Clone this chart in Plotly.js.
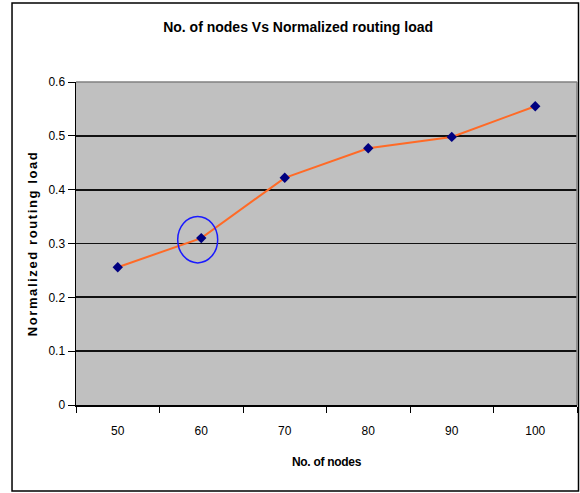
<!DOCTYPE html>
<html>
<head>
<meta charset="utf-8">
<script src="https://cdn.plot.ly/plotly-3.0.1.min.js"></script>
<style>
html,body{margin:0;padding:0;background:#fff;}
#chart{width:580px;height:493px;}
#chart .ytitle{letter-spacing:1.6px;}
#chart .xtitle{letter-spacing:-0.3px;}
</style>
</head>
<body>
<div id="chart"></div>
<script>
const nodes = ['50', '60', '70', '80', '90', '100'];
const routingLoad = [0.256, 0.310, 0.422, 0.477, 0.498, 0.555];
const yTicks = [0, 0.1, 0.2, 0.3, 0.4, 0.5, 0.6];
const yTickLabels = ['0', '0.1', '0.2', '0.3', '0.4', '0.5', '0.6'];

const sans = '"Liberation Sans", Arial, sans-serif';

const trace = {
  x: nodes,
  y: routingLoad,
  type: 'scatter',
  mode: 'lines+markers',
  line: {color: '#ff6a26', width: 2},
  marker: {symbol: 'diamond', size: 8, color: '#000080'},
  hoverinfo: 'x+y'
};

const layout = {
  width: 580,
  height: 493,
  margin: {l: 76, r: 3, t: 82, b: 88},
  paper_bgcolor: '#ffffff',
  plot_bgcolor: '#c0c0c0',
  showlegend: false,
  title: {
    text: '<b>No. of nodes Vs Normalized routing load</b>',
    font: {family: sans, size: 14, color: '#000'},
    xref: 'container',
    x: 0.514, xanchor: 'center',
    y: 0.945, yanchor: 'middle'
  },
  xaxis: {
    type: 'category',
    range: [-0.5, 5.5],
    tickson: 'boundaries',
    ticks: 'outside',
    ticklen: 6,
    tickcolor: '#000',
    showgrid: false,
    showline: true,
    linecolor: '#000',
    linewidth: 1.5,
    tickfont: {family: sans, size: 12, color: '#000'},
    ticklabelstandoff: 14,
    title: {text: '<b>No. of nodes</b>', font: {family: sans, size: 12, color: '#000'}, standoff: 20},
    fixedrange: true
  },
  yaxis: {
    range: [0, 0.6],
    tickvals: yTicks,
    ticktext: yTickLabels,
    ticks: 'outside',
    ticklen: 7,
    tickcolor: '#000',
    showgrid: true,
    gridcolor: '#111111',
    gridwidth: 1.8,
    zeroline: false,
    showline: true,
    linecolor: '#000',
    linewidth: 1.5,
    tickfont: {family: sans, size: 12, color: '#000'},
    title: {text: '<b>Normalized routing load</b>', font: {family: sans, size: 13, color: '#000'}, standoff: 8},
    fixedrange: true
  },
  shapes: [
    // outer chart border
    {type: 'rect', xref: 'paper', yref: 'paper', x0: -0.1277, x1: 1.003, y0: -0.266, y1: 1.2446,
     line: {color: '#000', width: 1.5}, fillcolor: 'rgba(0,0,0,0)', layer: 'above'},
    // top and right plot-area edges (gray)
    {type: 'line', xref: 'paper', yref: 'paper', x0: 0, x1: 1, y0: 1, y1: 1, line: {color: '#808080', width: 1.5}},
    {type: 'line', xref: 'paper', yref: 'paper', x0: 1, x1: 1, y0: 0, y1: 1, line: {color: '#808080', width: 1.5}},
    // blue highlight circle
    {type: 'circle', xref: 'x', yref: 'y', x0: 0.718, x1: 1.197, y0: 0.264, y1: 0.350,
     line: {color: '#1a1aff', width: 1.5}, fillcolor: 'rgba(0,0,0,0)', layer: 'above'}
  ]
};

Plotly.newPlot('chart', [trace], layout, {displayModeBar: false, staticPlot: true});
</script>
</body>
</html>
